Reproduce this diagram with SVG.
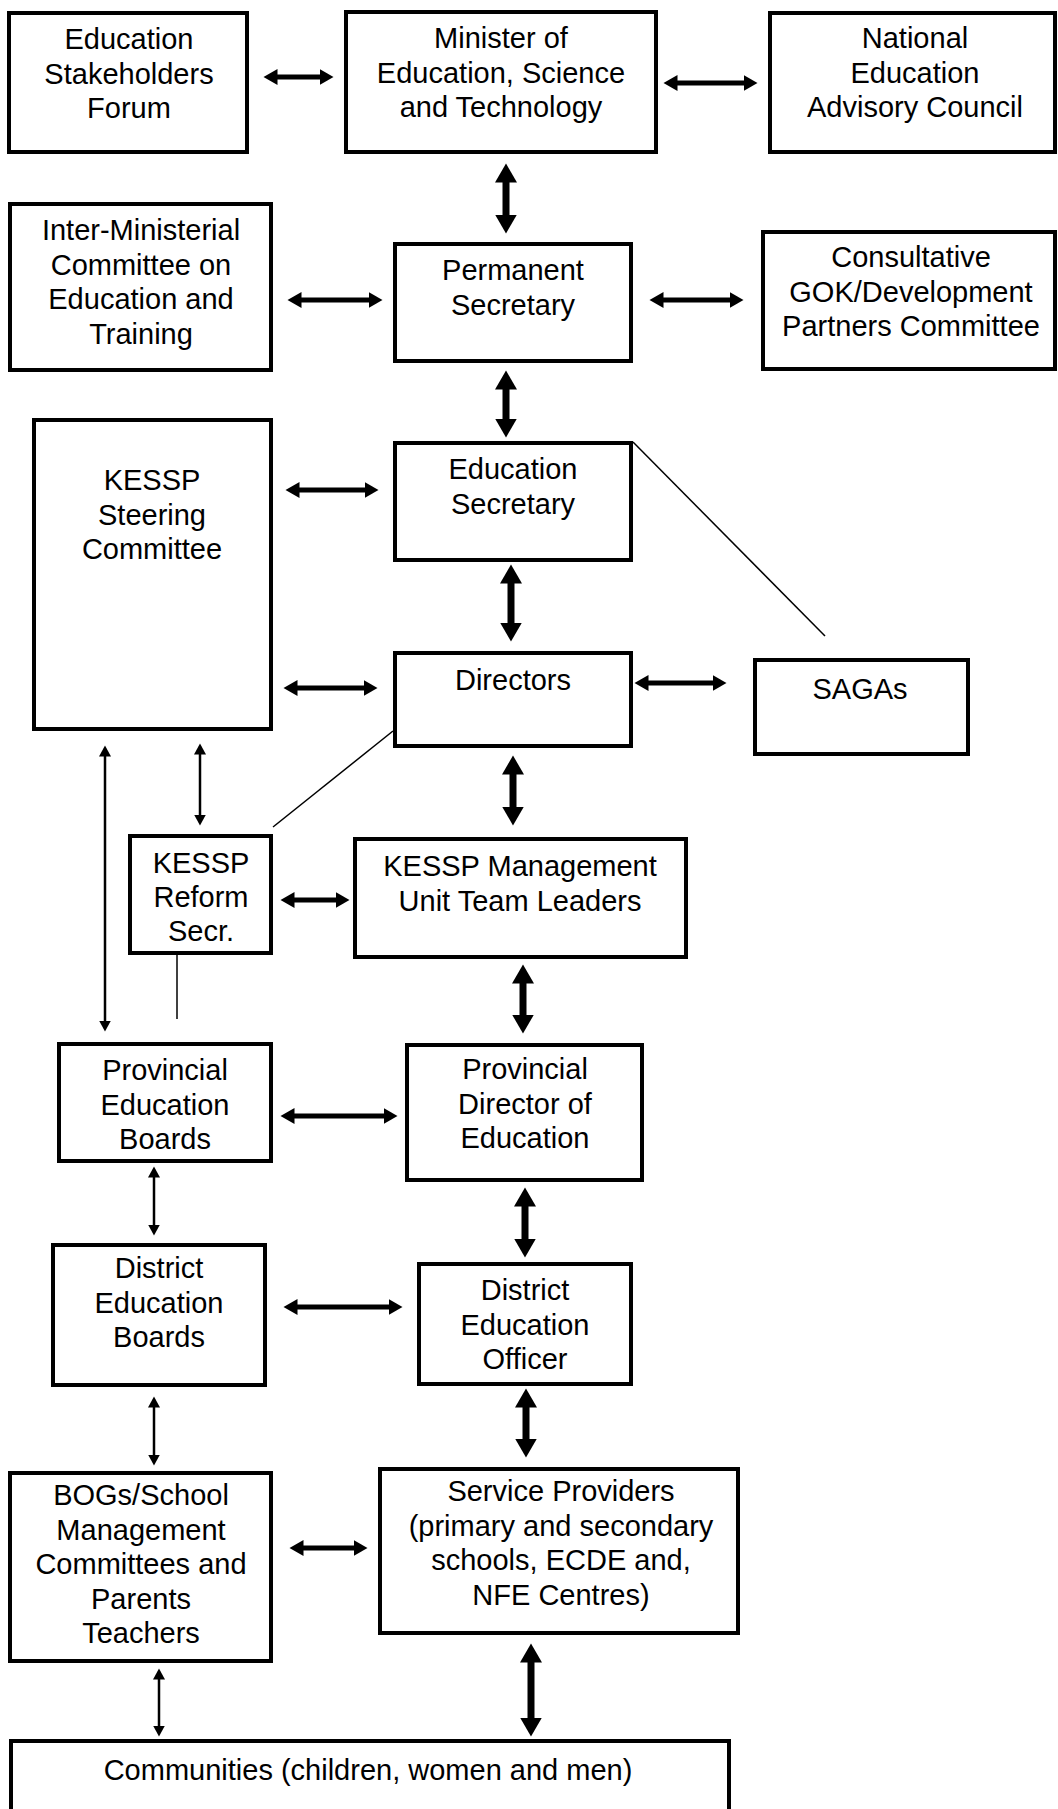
<svg xmlns="http://www.w3.org/2000/svg" width="1058" height="1809" viewBox="0 0 1058 1809">
<style>
.box{fill:#fff;stroke:#000;stroke-width:4}
.t{font-family:"Liberation Sans",Arial,sans-serif;font-size:29px;fill:#000;text-anchor:middle}
.h{stroke:#000;stroke-width:5;fill:none;marker-start:url(#ah);marker-end:url(#ah)}
.v{stroke:#000;stroke-width:7;fill:none;marker-start:url(#av);marker-end:url(#av)}
.n{stroke:#000;stroke-width:2.5;fill:none;marker-start:url(#an);marker-end:url(#an)}
.l{stroke:#000;stroke-width:1.5;fill:none}
</style>
<defs>
<marker id="ah" markerUnits="userSpaceOnUse" markerWidth="16" markerHeight="18" refX="0.5" refY="8" orient="auto-start-reverse" viewBox="0 0 16 16"><path d="M0,0 L14,8 L0,16 z" fill="#000"/></marker>
<marker id="av" markerUnits="userSpaceOnUse" markerWidth="20" markerHeight="24" refX="0.5" refY="11" orient="auto-start-reverse" viewBox="0 0 20 22"><path d="M0,0 L19,11 L0,22 z" fill="#000"/></marker>
<marker id="an" markerUnits="userSpaceOnUse" markerWidth="12" markerHeight="14" refX="0.5" refY="6" orient="auto-start-reverse" viewBox="0 0 12 12"><path d="M0,0 L11,6 L0,12 z" fill="#000"/></marker>
</defs>

<g id="connectors">
<line class="h" x1="277" y1="77" x2="320" y2="77"/>
<line class="h" x1="677" y1="83" x2="744" y2="83"/>
<line class="h" x1="301" y1="300" x2="369" y2="300"/>
<line class="h" x1="663" y1="300" x2="730" y2="300"/>
<line class="h" x1="299" y1="490" x2="365" y2="490"/>
<line class="h" x1="297" y1="688" x2="364" y2="688"/>
<line class="h" x1="648" y1="683" x2="713" y2="683"/>
<line class="h" x1="294" y1="900" x2="336" y2="900"/>
<line class="h" x1="294" y1="1116" x2="384" y2="1116"/>
<line class="h" x1="297" y1="1307" x2="389" y2="1307"/>
<line class="h" x1="303" y1="1548" x2="354" y2="1548"/>
<line class="v" x1="506" y1="182" x2="506" y2="215"/>
<line class="v" x1="506" y1="389" x2="506" y2="419"/>
<line class="v" x1="511" y1="583" x2="511" y2="623"/>
<line class="v" x1="513" y1="774" x2="513" y2="807"/>
<line class="v" x1="523" y1="983" x2="523" y2="1015"/>
<line class="v" x1="525" y1="1206" x2="525" y2="1239"/>
<line class="v" x1="526" y1="1407" x2="526" y2="1439"/>
<line class="v" x1="531" y1="1662" x2="531" y2="1718"/>
<line class="n" x1="105" y1="756" x2="105" y2="1021"/>
<line class="n" x1="200" y1="754" x2="200" y2="815"/>
<line class="n" x1="154" y1="1177" x2="154" y2="1225"/>
<line class="n" x1="154" y1="1407" x2="154" y2="1455"/>
<line class="n" x1="159" y1="1679" x2="159" y2="1726"/>
<line class="l" x1="633" y1="442" x2="825" y2="636"/>
<line class="l" x1="393" y1="731" x2="273" y2="827"/>
<line class="l" x1="177" y1="947" x2="177" y2="1019"/>
</g>

<g id="esf"><rect class="box" x="9" y="13" width="238" height="139"/>
<text class="t"><tspan x="129" y="49">Education</tspan><tspan x="129" y="83.5">Stakeholders</tspan><tspan x="129" y="118">Forum</tspan></text></g>

<g id="minister"><rect class="box" x="346" y="12" width="310" height="140"/>
<text class="t"><tspan x="501" y="48">Minister of</tspan><tspan x="501" y="82.5">Education, Science</tspan><tspan x="501" y="117">and Technology</tspan></text></g>

<g id="neac"><rect class="box" x="770" y="13" width="285" height="139"/>
<text class="t"><tspan x="915" y="48">National</tspan><tspan x="915" y="82.5">Education</tspan><tspan x="915" y="117">Advisory Council</tspan></text></g>

<g id="imc"><rect class="box" x="10" y="204" width="261" height="166"/>
<text class="t"><tspan x="141" y="240">Inter-Ministerial</tspan><tspan x="141" y="274.5">Committee on</tspan><tspan x="141" y="309">Education and</tspan><tspan x="141" y="343.5">Training</tspan></text></g>

<g id="ps"><rect class="box" x="395" y="244" width="236" height="117"/>
<text class="t"><tspan x="513" y="280">Permanent</tspan><tspan x="513" y="314.5">Secretary</tspan></text></g>

<g id="gok"><rect class="box" x="763" y="232" width="292" height="137"/>
<text class="t"><tspan x="911" y="267">Consultative</tspan><tspan x="911" y="301.5">GOK/Development</tspan><tspan x="911" y="336">Partners Committee</tspan></text></g>

<g id="ksc"><rect class="box" x="34" y="420" width="237" height="309"/>
<text class="t"><tspan x="152" y="490">KESSP</tspan><tspan x="152" y="524.5">Steering</tspan><tspan x="152" y="559">Committee</tspan></text></g>

<g id="es"><rect class="box" x="395" y="443" width="236" height="117"/>
<text class="t"><tspan x="513" y="479">Education</tspan><tspan x="513" y="513.5">Secretary</tspan></text></g>

<g id="directors"><rect class="box" x="395" y="653" width="236" height="93"/>
<text class="t" x="513" y="690">Directors</text></g>

<g id="sagas"><rect class="box" x="755" y="660" width="213" height="94"/>
<text class="t" x="860" y="699">SAGAs</text></g>

<g id="krs"><rect class="box" x="130" y="836" width="141" height="117"/>
<text class="t"><tspan x="201" y="873">KESSP</tspan><tspan x="201" y="907">Reform</tspan><tspan x="201" y="941">Secr.</tspan></text></g>

<g id="kmu"><rect class="box" x="355" y="839" width="331" height="118"/>
<text class="t"><tspan x="520" y="876">KESSP Management</tspan><tspan x="520" y="910.5">Unit Team Leaders</tspan></text></g>

<g id="peb"><rect class="box" x="59" y="1044" width="212" height="117"/>
<text class="t"><tspan x="165" y="1080">Provincial</tspan><tspan x="165" y="1114.5">Education</tspan><tspan x="165" y="1149">Boards</tspan></text></g>

<g id="pde"><rect class="box" x="407" y="1045" width="235" height="135"/>
<text class="t"><tspan x="525" y="1079">Provincial</tspan><tspan x="525" y="1113.5">Director of</tspan><tspan x="525" y="1148">Education</tspan></text></g>

<g id="deb"><rect class="box" x="53" y="1245" width="212" height="140"/>
<text class="t"><tspan x="159" y="1278">District</tspan><tspan x="159" y="1312.5">Education</tspan><tspan x="159" y="1347">Boards</tspan></text></g>

<g id="deo"><rect class="box" x="419" y="1264" width="212" height="120"/>
<text class="t"><tspan x="525" y="1300">District</tspan><tspan x="525" y="1334.5">Education</tspan><tspan x="525" y="1369">Officer</tspan></text></g>

<g id="bog"><rect class="box" x="10" y="1473" width="261" height="188"/>
<text class="t"><tspan x="141" y="1505">BOGs/School</tspan><tspan x="141" y="1539.5">Management</tspan><tspan x="141" y="1574">Committees and</tspan><tspan x="141" y="1608.5">Parents</tspan><tspan x="141" y="1643">Teachers</tspan></text></g>

<g id="sp"><rect class="box" x="380" y="1469" width="358" height="164"/>
<text class="t"><tspan x="561" y="1501">Service Providers</tspan><tspan x="561" y="1535.5">(primary and secondary</tspan><tspan x="561" y="1570">schools, ECDE and,</tspan><tspan x="561" y="1604.5">NFE Centres)</tspan></text></g>

<g id="communities"><rect class="box" x="11" y="1741" width="718" height="90"/>
<text class="t" x="368" y="1780">Communities (children, women and men)</text></g>
</svg>
